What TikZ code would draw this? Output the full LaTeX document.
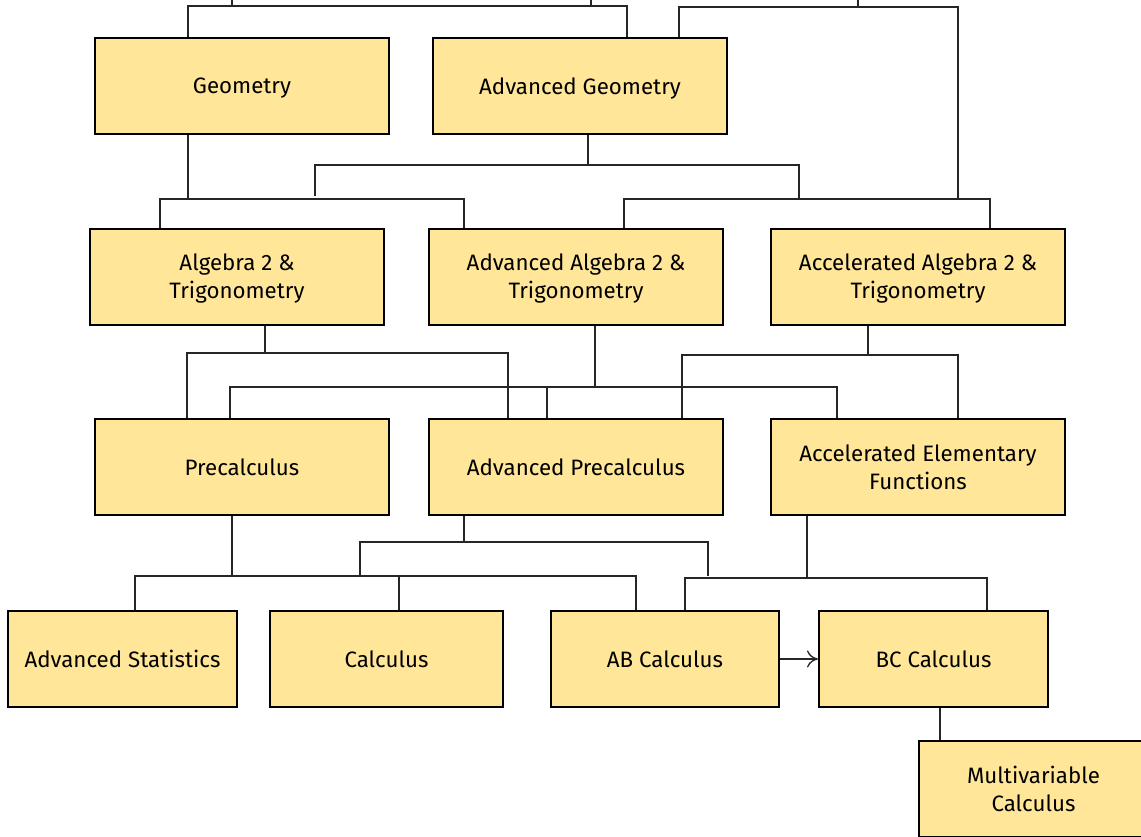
\documentclass[tikz,border=0pt]{standalone}
\usepackage{fontspec}
\setmainfont{Fira Sans}
\usetikzlibrary{arrows.meta}
\definecolor{coursefill}{HTML}{FFE699}
\tikzset{
  course/.style={draw=black, line width=2pt, fill=coursefill, minimum height=96pt,
    align=center, inner sep=0pt, text depth=0pt, font=\fontsize{22.3}{28}\selectfont},
  link/.style={draw=black!85, line width=1.3pt},
}

\begin{document}
\begin{tikzpicture}[x=1pt,y=-1pt]
\useasboundingbox (0,0) rectangle (1141,836);
\clip (0,0) rectangle (1141,836);
% courses
\node[course, minimum width=294pt] (geo)  at (242,86) {Geometry};
\node[course, minimum width=294pt] (ageo) at (580,86) {Advanced Geometry};
\node[course, minimum width=294pt] (alg)  at (237,276.5) {Algebra 2 \&\\Trigonometry};
\node[course, minimum width=294pt] (aalg) at (576,276.5) {Advanced Algebra 2 \&\\Trigonometry};
\node[course, minimum width=294pt] (xalg) at (918,276.5) {Accelerated Algebra 2 \&\\Trigonometry};
\node[course, minimum width=294pt] (pre)  at (242,467) {Precalculus};
\node[course, minimum width=294pt] (apre) at (576,467) {Advanced Precalculus};
\node[course, minimum width=294pt] (xef)  at (918,467) {Accelerated Elementary\\Functions};
\node[course, minimum width=229pt] (stat) at (122.5,659) {Advanced Statistics};
\node[course, minimum width=233pt] (calc) at (386.5,659) {Calculus};
\node[course, minimum width=228pt] (ab)   at (665,659) {AB Calculus};
\node[course, minimum width=229pt] (bc)   at (933.5,659) {BC Calculus};
\node[course, minimum width=229pt] (mv)   at (1033.5,789) {Multivariable\\Calculus};

% lines coming in from above
\coordinate (inA) at (232,0);
\coordinate (inB) at (591,0);
\coordinate (inC) at (858,0);
\draw[link] (inA) -- ++(0,6);
\draw[link] (inB) -- ++(0,7);
\draw[link] (inC) -- ++(0,7);
\draw[link] (geo.north -| 188,0) |- (627,6) -- (ageo.north -| 627,0);
\draw[link] (ageo.north -| 679,0) |- (958,7) -- (958,199);

% geometry -> algebra 2
\draw[link] (geo.south -| 188,0) -- (188,199);
\draw[link] (alg.north -| 160,0) |- (464,199) -- (aalg.north -| 464,0);
\draw[link] (ageo.south -| 588,0) -- (588,165);
\draw[link] (315,196) |- (799,165) -- (799,199);
\draw[link] (aalg.north -| 624,0) |- (990,199) -- (xalg.north -| 990,0);

% algebra 2 -> precalculus
\draw[link] (alg.south -| 265,0) -- (265,353);
\draw[link] (pre.north -| 187,0) |- (508,353) -- (apre.north -| 508,0);
\draw[link] (aalg.south -| 595,0) -- (595,387);
\draw[link] (pre.north -| 230,0) |- (837,387) -- (xef.north -| 837,0);
\draw[link] (547,387) -- (apre.north -| 547,0);
\draw[link] (xalg.south -| 868,0) -- (868,355);
\draw[link] (apre.north -| 682,0) |- (958,355) -- (xef.north -| 958,0);

% precalculus -> calculus
\draw[link] (pre.south -| 232,0) -- (232,576);
\draw[link] (stat.north -| 135,0) |- (636,576) -- (ab.north -| 636,0);
\draw[link] (399,576) -- (calc.north -| 399,0);
\draw[link] (apre.south -| 464,0) -- (464,542);
\draw[link] (360,576) |- (708,542) -- (708,576);
\draw[link] (xef.south -| 807,0) -- (807,578);
\draw[link] (ab.north -| 685,0) |- (987,578) -- (bc.north -| 987,0);
\draw[link, -{To[length=11pt,width=17pt]}] (ab.east) -- (bc.west);
\draw[link] (bc.south -| 940,0) -- (mv.north -| 940,0);
\end{tikzpicture}
\end{document}
